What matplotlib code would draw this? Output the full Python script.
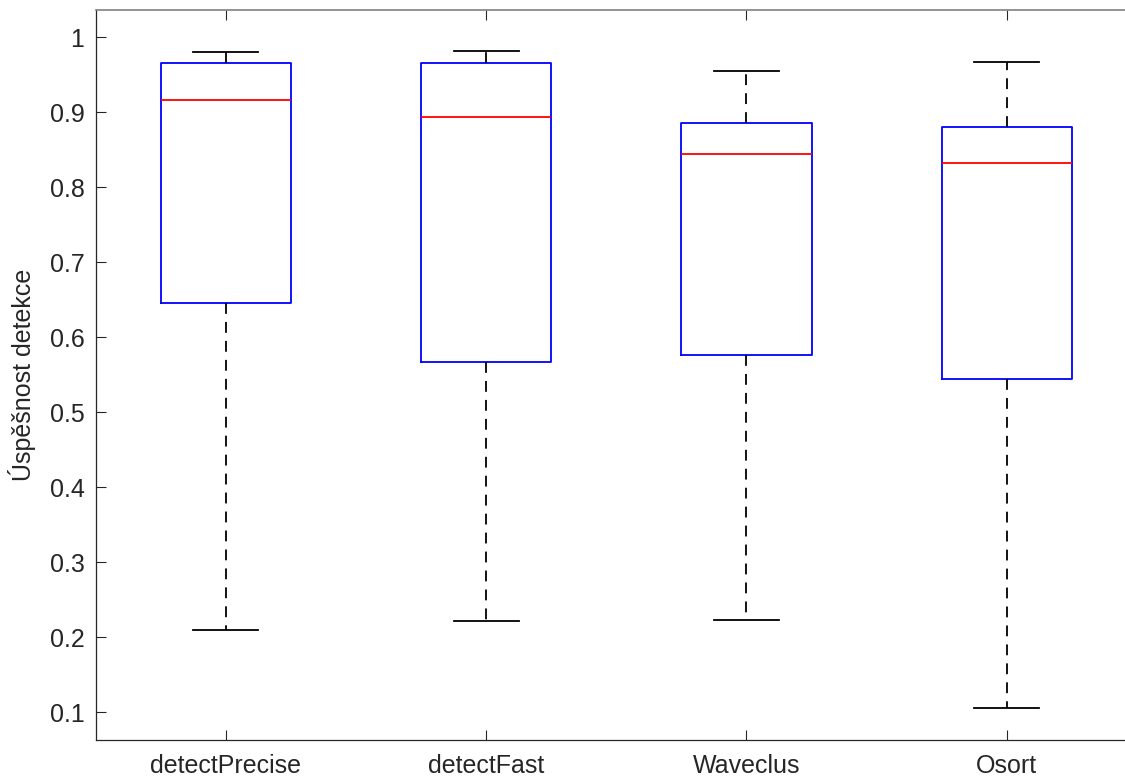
import matplotlib
matplotlib.use("Agg")
import matplotlib.pyplot as plt

plt.rcParams['font.family'] = ['Liberation Sans', 'DejaVu Sans']

# box statistics
names = ['detectPrecise', 'detectFast', 'Waveclus', 'Osort']
whis_hi = [0.980, 0.981, 0.955, 0.967]
q3 = [0.966, 0.966, 0.886, 0.880]
med = [0.916, 0.894, 0.844, 0.832]
q1 = [0.646, 0.567, 0.576, 0.544]
whis_lo = [0.209, 0.221, 0.223, 0.106]

stats = []
for i in range(len(names)):
    stats.append({'label': names[i], 'med': med[i], 'q1': q1[i], 'q3': q3[i],
                  'whislo': whis_lo[i], 'whishi': whis_hi[i], 'fliers': []})

fig = plt.figure(figsize=(11.25, 7.8), dpi=100)
# the right side of the axes runs past the figure edge, like the reference
ax = fig.add_axes([95.5/1125, 40/780, (1137-95.5)/1125, 730/780])

ax.bxp(stats, positions=[1, 2, 3, 4], widths=0.5, showfliers=False,
       boxprops=dict(color='#0000ff', linewidth=1.3),
       medianprops=dict(color='#ff0000', linewidth=1.3),
       whiskerprops=dict(color='black', linewidth=1.3, linestyle=(0, (6, 4.5))),
       capprops=dict(color='black', linewidth=1.3),
       capwidths=0.25)

ax.set_xlim(0.5, 4.5)
ax.set_ylim(0.0627, 1.036)
ax.set_yticks([0.1, 0.2, 0.3, 0.4, 0.5, 0.6, 0.7, 0.8, 0.9, 1])
ax.set_yticklabels(['0.1', '0.2', '0.3', '0.4', '0.5', '0.6', '0.7', '0.8', '0.9', '1'])
ax.set_xticks([1, 2, 3, 4])
ax.set_xticklabels(names)

ax.tick_params(direction='in', length=7.5, width=0.8, colors='#262626',
               labelsize=18, pad=8, top=True, right=False)
ax.tick_params(axis='x', pad=10)
ax.set_ylabel('Úspěšnost detekce', fontsize=18, color='#262626', labelpad=10)

for s in ['left', 'bottom']:
    ax.spines[s].set_color('#262626')
    ax.spines[s].set_linewidth(0.9)
ax.spines['top'].set_color('#808080')
ax.spines['top'].set_linewidth(1.2)
ax.spines['right'].set_visible(False)

fig.savefig('out.png', dpi=100)
